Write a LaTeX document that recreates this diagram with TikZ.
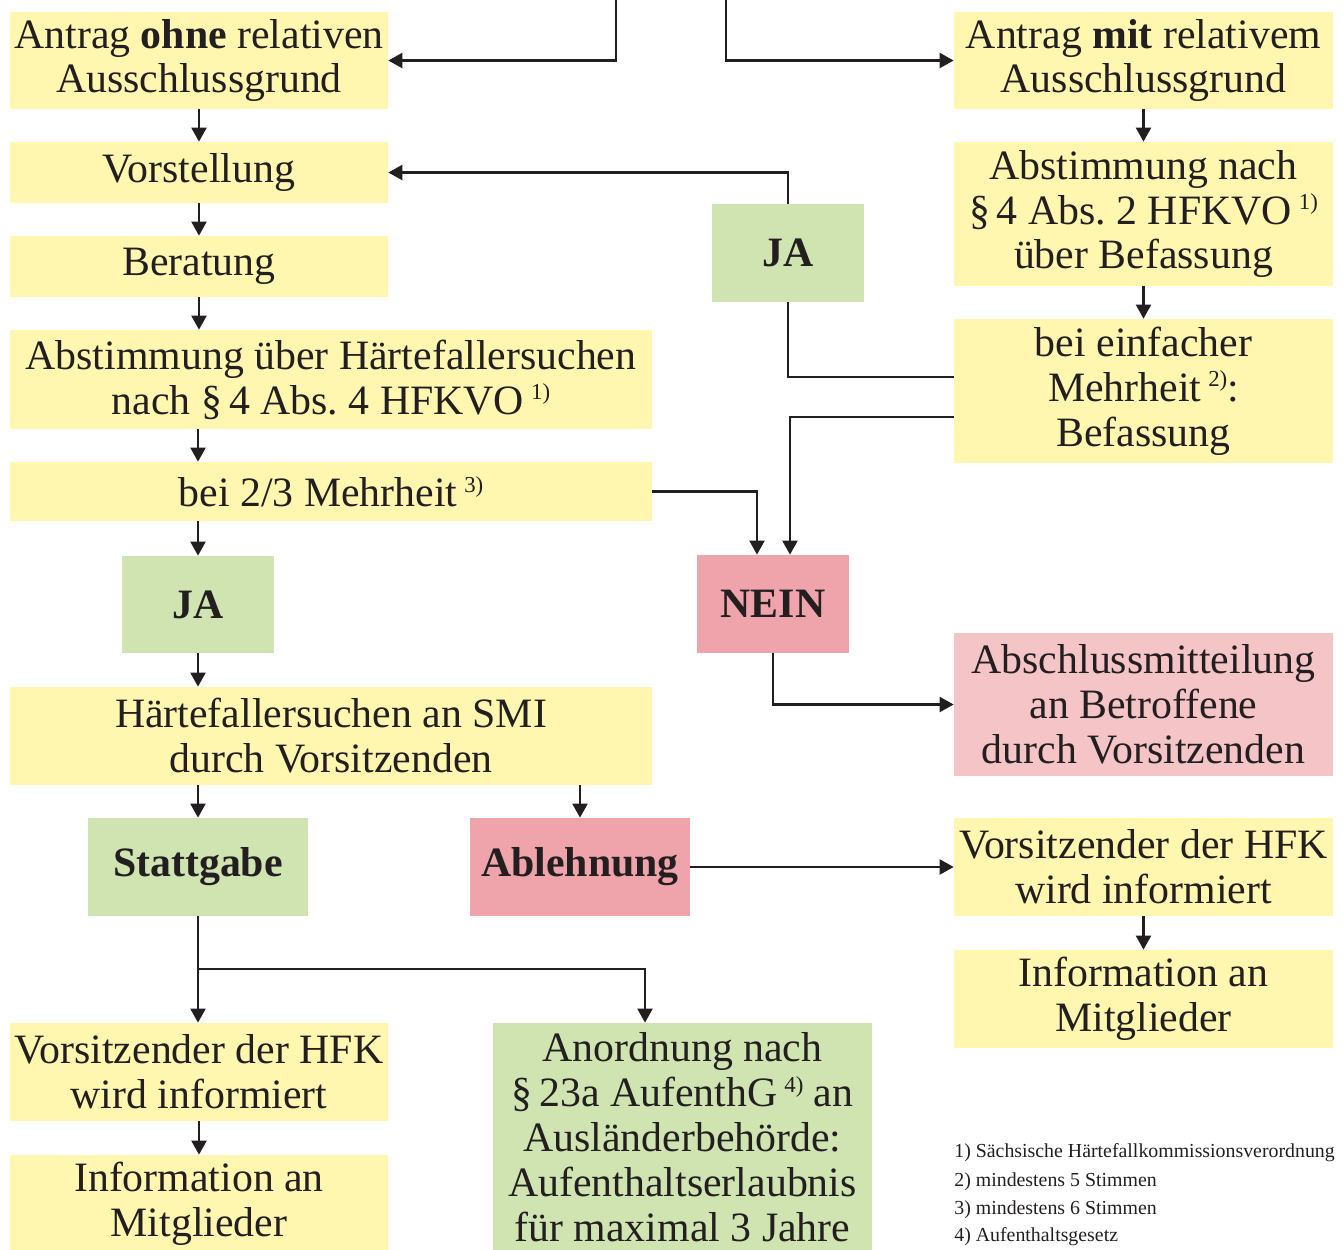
\documentclass[tikz,border=0pt]{standalone}
\usepackage{fontspec}
\setmainfont{Liberation Serif}
\usetikzlibrary{arrows.meta,positioning}
\definecolor{hfyellow}{RGB}{255,247,176}
\definecolor{hfgreen}{RGB}{208,228,178}
\definecolor{hfred}{RGB}{239,163,170}
\definecolor{hfpink}{RGB}{244,196,199}
\definecolor{hftext}{RGB}{35,31,32}
\newcommand{\fnref}[1]{\,\raisebox{0.75ex}{\fontsize{13}{13}\selectfont #1}}
\tikzstyle{arrow} = [line width=1.4pt, -{Triangle[length=8pt,width=8.5pt]}, color=hftext]
\tikzstyle{line} = [line width=1.4pt, color=hftext]
\tikzstyle{stepbox} = [rectangle, inner sep=0pt, align=center, text=hftext, fill=hfyellow, font=\fontsize{23.8}{25.6}\selectfont]
\tikzstyle{yesbox} = [stepbox, fill=hfgreen]
\tikzstyle{nobox} = [stepbox, fill=hfred]
\tikzstyle{endbox} = [stepbox, fill=hfpink]
\tikzstyle{note} = [anchor=west, inner sep=0pt, text=hftext, font=\fontsize{11.3}{13}\selectfont]

\begin{document}
\begin{tikzpicture}[x=0.02cm, y=-0.02cm]
    \useasboundingbox (0,0) rectangle (1343,1249);

    % Left column
    \node[stepbox, minimum width=7.56cm, minimum height=1.94cm] (a1) at (199,60.5) {Antrag \textbf{ohne} relativen\\Ausschlussgrund};
    \node[stepbox, minimum width=7.56cm, minimum height=1.22cm] (vorst) at (199,172.5) {Vorstellung};
    \node[stepbox, minimum width=7.56cm, minimum height=1.22cm] (berat) at (199,266.5) {Beratung};
    \node[stepbox, minimum width=12.84cm, minimum height=1.98cm] (abst) at (331,379.5) {Abstimmung über Härtefallersuchen\\nach §\,4 Abs.~4 HFKVO\fnref{1)}};
    \node[stepbox, minimum width=12.84cm, minimum height=1.18cm] (mehr) at (331,491.5) {bei 2/3 Mehrheit\fnref{3)}};
    \node[yesbox, minimum width=3.04cm, minimum height=1.94cm] (ja1) at (198,604.5) {\textbf{JA}};
    \node[stepbox, minimum width=12.84cm, minimum height=1.96cm] (hfe) at (331,736) {Härtefallersuchen an SMI\\durch Vorsitzenden};
    \node[yesbox, minimum width=4.4cm, minimum height=1.96cm] (statt) at (198,867) {\textbf{Stattgabe}};
    \node[nobox, minimum width=4.4cm, minimum height=1.96cm] (ableh) at (580,867) {\textbf{Ablehnung}};
    \node[stepbox, minimum width=7.56cm, minimum height=1.96cm] (vors1) at (199,1072) {Vorsitzender der HFK\\wird informiert};
    \node[stepbox, minimum width=7.56cm, minimum height=1.94cm] (info1) at (199,1203.5) {Information an\\Mitglieder};
    \node[yesbox, minimum width=7.58cm, minimum height=4.58cm] (anord) at (682.5,1137.5) {Anordnung nach\\§\,23a AufenthG\fnref{4)} an\\Ausländerbehörde:\\Aufenthaltserlaubnis\\für maximal 3 Jahre};

    % Right column
    \node[stepbox, minimum width=7.58cm, minimum height=1.94cm] (b1) at (1143.5,60.5) {Antrag \textbf{mit} relativem\\Ausschlussgrund};
    \node[stepbox, minimum width=7.58cm, minimum height=2.88cm] (b2) at (1143.5,214) {Abstimmung nach\\§\,4 Abs.~2 HFKVO\fnref{1)}\\über Befassung};
    \node[stepbox, minimum width=7.58cm, minimum height=2.88cm] (b3) at (1143.5,391) {bei einfacher\\Mehrheit\fnref{2)}:\\Befassung};
    \node[yesbox, minimum width=3.04cm, minimum height=1.96cm] (ja2) at (788,253) {\textbf{JA}};
    \node[nobox, minimum width=3.04cm, minimum height=1.96cm] (nein) at (773,604) {\textbf{NEIN}};
    \node[endbox, minimum width=7.58cm, minimum height=2.86cm] (absch) at (1143.5,704.5) {Abschlussmitteilung\\an Betroffene\\durch Vorsitzenden};
    \node[stepbox, minimum width=7.58cm, minimum height=1.96cm] (vors2) at (1143.5,867) {Vorsitzender der HFK\\wird informiert};
    \node[stepbox, minimum width=7.58cm, minimum height=1.96cm] (info2) at (1143.5,999) {Information an\\Mitglieder};

    % Footnotes
    \node[note] (fn1) at (954,1153) {1) Sächsische Härtefallkommissionsverordnung};
    \node[note] (fn2) at (954,1182) {2) mindestens 5 Stimmen};
    \node[note] (fn3) at (954,1210) {3) mindestens 6 Stimmen};
    \node[note] (fn4) at (954,1237) {4) Aufenthaltsgesetz};

    % Arrows
    \coordinate (topl) at (616,0);
    \coordinate (topr) at (726,0);
    \coordinate (fork) at (198,969);
    \draw[arrow] (topl) |- (a1.east);
    \draw[arrow] (topr) |- (b1.west);
    \draw[arrow] (a1) -- (vorst);
    \draw[arrow] (vorst) -- (berat);
    \draw[arrow] (berat.south) -- (berat.south |- abst.north);
    \draw[arrow] (ja1.north |- abst.south) -- (ja1.north |- mehr.north);
    \draw[arrow] (ja1 |- mehr.south) -- (ja1.north);
    \draw[arrow] (ja1.south) -- (ja1 |- hfe.north);
    \draw[arrow] (statt |- hfe.south) -- (statt.north);
    \draw[arrow] (ableh |- hfe.south) -- (ableh.north);
    \draw[arrow] (statt.south) -- (statt.south |- vors1.north);
    \draw[arrow] (fork) -| ([xshift=-0.75cm]anord.north);
    \draw[arrow] (vors1) -- (info1);
    \draw[arrow] (b1) -- (b2);
    \draw[arrow] (b2) -- (b3);
    \draw[line] ([yshift=0.28cm]b3.west) -| (ja2.south);
    \draw[arrow] (ja2.north) |- (vorst.east);
    \draw[arrow] ([yshift=-0.52cm]b3.west) -| ([xshift=0.34cm]nein.north);
    \draw[arrow] (mehr.east) -| ([xshift=-0.32cm]nein.north);
    \draw[arrow] (nein.south) |- (absch.west);
    \draw[arrow] (ableh.east) -- (vors2.west);
    \draw[arrow] (vors2) -- (info2);
\end{tikzpicture}
\end{document}
